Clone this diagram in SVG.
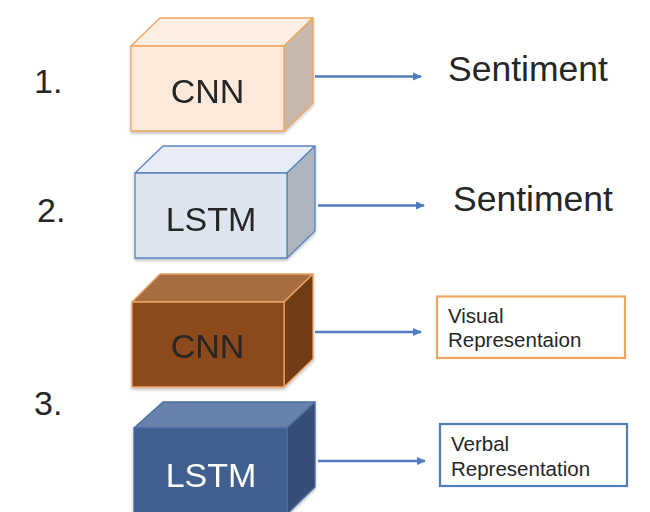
<svg xmlns="http://www.w3.org/2000/svg" width="650" height="512" viewBox="0 0 650 512">
<style>
text{font-family:"Liberation Sans",Arial,sans-serif;fill:#262626}
.big{font-size:34px}
.sent{font-size:35.5px}
.lbl{font-size:20.5px}
.conn line{stroke:#4F7CBD;stroke-width:2.4;fill:none}
.cube path{stroke-width:1.3;stroke-linejoin:round}
</style>
<defs>
<marker id="ah" markerWidth="10" markerHeight="10" refX="8" refY="5" orient="auto" markerUnits="userSpaceOnUse">
<path d="M0,1 L9,5 L0,9 Z" fill="#4F7CBD"/>
</marker>
<filter id="sh" x="-10%" y="-10%" width="130%" height="130%">
<feGaussianBlur in="SourceAlpha" stdDeviation="1.5"/>
<feOffset dx="0" dy="2"/>
<feComponentTransfer><feFuncA type="linear" slope="0.25"/></feComponentTransfer>
<feMerge><feMergeNode/><feMergeNode in="SourceGraphic"/></feMerge>
</filter>
</defs>
<rect width="650" height="512" fill="#fff"/>

<text class="big" x="34" y="93">1.</text>
<text class="big" x="37" y="222">2.</text>
<text class="big" x="34" y="415">3.</text>

<g id="cnn1" class="cube" filter="url(#sh)">
<path d="M131,46 L160,18 L313,18 L284,46 Z" fill="#FCEEE2" stroke="#F0A45E"/>
<path d="M284,46 L313,18 L313,103 L284,131 Z" fill="#C8B9AC" stroke="#F0A45E"/>
<path d="M131,46 H284 V131 H131 Z" fill="#FBEADB" stroke="#F0A45E"/>
<text class="big" x="207.5" y="103" text-anchor="middle">CNN</text>
</g>

<g id="lstm1" class="cube" filter="url(#sh)">
<path d="M135,173 L163,146 L315,146 L287,173 Z" fill="#E7ECF6" stroke="#5B84C1"/>
<path d="M287,173 L315,146 L315,231 L287,258 Z" fill="#ACB4BF" stroke="#5B84C1"/>
<path d="M135,173 H287 V258 H135 Z" fill="#DDE5F1" stroke="#5B84C1"/>
<text class="big" x="211" y="231" text-anchor="middle">LSTM</text>
</g>

<g id="cnn2" class="cube" filter="url(#sh)">
<path d="M132,302 L160,274 L313,274 L284,302 Z" fill="#A66E40" stroke="#EDA262"/>
<path d="M284,302 L313,274 L313,359 L284,387 Z" fill="#713C17" stroke="#EDA262"/>
<path d="M132,302 H284 V387 H132 Z" fill="#8C4A1E" stroke="#EDA262"/>
<text class="big" x="207.5" y="358" text-anchor="middle">CNN</text>
</g>

<g id="lstm2" class="cube" filter="url(#sh)">
<path d="M134,428 L163,402 L315,402 L287,428 Z" fill="#6682AA" stroke="#4C6FA6"/>
<path d="M287,428 L315,402 L315,487 L287,514 Z" fill="#344E77" stroke="#4C6FA6"/>
<path d="M134,428 H287 V514 H134 Z" fill="#40608F" stroke="#4C6FA6"/>
<text class="big" x="211" y="487" text-anchor="middle" style="fill:#ffffff">LSTM</text>
</g>

<g id="sent1"><text class="sent" x="448" y="81">Sentiment</text></g>
<g id="sent2"><text class="sent" x="453" y="211">Sentiment</text></g>

<g id="visual">
<rect x="437" y="296.5" width="188" height="61.5" fill="#fff" stroke="#F0A45E" stroke-width="2.2"/>
<text class="lbl" x="448" y="323">Visual</text>
<text class="lbl" x="448" y="347">Representaion</text>
</g>

<g id="verbal">
<rect x="440" y="424" width="187" height="62" fill="#fff" stroke="#4F7CBD" stroke-width="2.2"/>
<text class="lbl" x="451" y="451">Verbal</text>
<text class="lbl" x="451" y="476">Representation</text>
</g>

<g id="connectors" class="conn">
<line x1="315" y1="76.5" x2="421" y2="76.5" marker-end="url(#ah)"/>
<line x1="318" y1="205.5" x2="424" y2="205.5" marker-end="url(#ah)"/>
<line x1="315" y1="332" x2="421" y2="332" marker-end="url(#ah)"/>
<line x1="318" y1="461" x2="425" y2="461" marker-end="url(#ah)"/>
</g>
</svg>
